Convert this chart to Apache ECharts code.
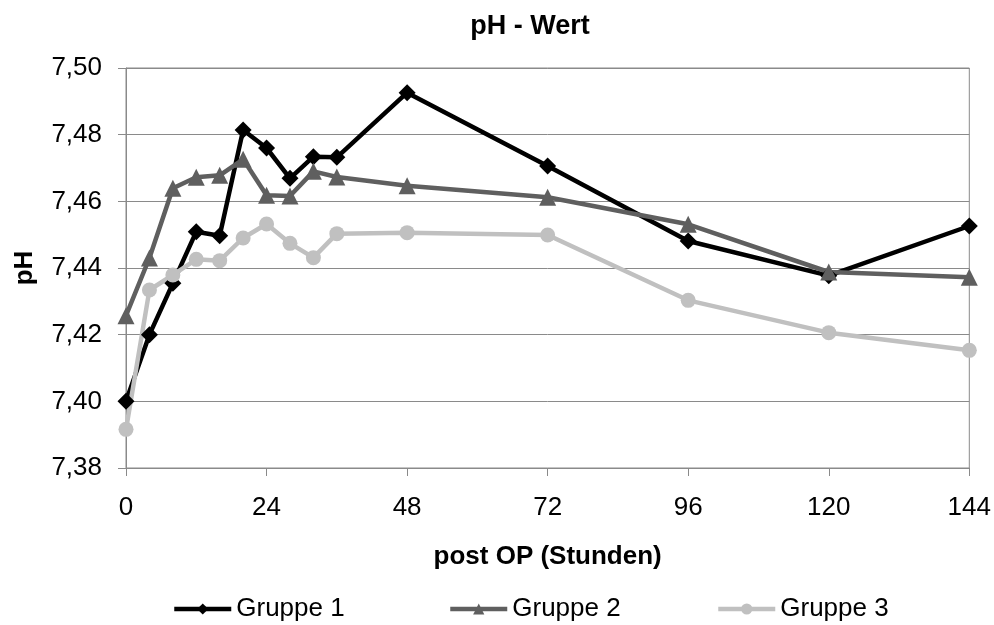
<!DOCTYPE html>
<html>
<head>
<meta charset="utf-8">
<script src="https://cdn.jsdelivr.net/npm/echarts@6/dist/echarts.min.js"></script>
<style>
html,body{margin:0;padding:0;background:#fff;}
#chart{width:994px;height:625px;}
</style>
</head>
<body>
<div id="chart"></div>
<script>
const hours = [0, 4, 8, 12, 16, 20, 24, 28, 32, 36, 48, 72, 96, 120, 144];
const gruppe1 = [7.400, 7.420, 7.4354, 7.4509, 7.4497, 7.4814, 7.4760, 7.4669, 7.4734, 7.4732, 7.4926, 7.4706, 7.4481, 7.4377, 7.4526];
const gruppe2 = [7.4257, 7.4430, 7.4639, 7.4672, 7.4678, 7.4726, 7.4618, 7.4616, 7.4690, 7.4673, 7.4647, 7.4612, 7.4531, 7.4388, 7.4372];
const gruppe3 = [7.3916, 7.4334, 7.4379, 7.4426, 7.4422, 7.4490, 7.4532, 7.4474, 7.4431, 7.4503, 7.4506, 7.4499, 7.4303, 7.4206, 7.4153];
const seriesNames = ['Gruppe 1', 'Gruppe 2', 'Gruppe 3'];
const title = 'pH - Wert';
const xName = 'post OP (Stunden)';
const yName = 'pH';

const FONT = '"Liberation Sans", Arial, sans-serif';
const FS = 26;
const chart = echarts.init(document.getElementById('chart'));

function pairs(vals) { return hours.map((h, i) => [h, vals[i]]); }

const colors = ['#000000', '#5f5f5f', '#c0c0c0'];
const symbols = ['diamond', 'triangle', 'circle'];
const sizes = [17, 17, 15];
const data = [gruppe1, gruppe2, gruppe3];

const legendLefts = [172, 448, 716];

chart.setOption({
  animation: false,
  backgroundColor: '#ffffff',
  title: {
    text: title, left: 525, top: 8, textAlign: 'center',
    textStyle: { fontFamily: FONT, fontWeight: 'bold', fontSize: 27, color: '#000' }
  },
  legend: seriesNames.map((n, i) => ({
    data: [n], left: legendLefts[i], top: 596,
    itemWidth: 57, itemHeight: 14, itemGap: 4, padding: 0,
    lineStyle: { width: 4.5 },
    textStyle: { fontFamily: FONT, fontSize: FS, color: '#000' }
  })),
  grid: { left: 126, right: 23, top: 68, bottom: 157, show: true, borderColor: '#8a8a8a', borderWidth: 1 },
  xAxis: {
    type: 'value', min: 0, max: 144, interval: 24,
    name: xName, nameLocation: 'middle', nameGap: 76,
    nameTextStyle: { fontFamily: FONT, fontWeight: 'bold', fontSize: FS, color: '#000' },
    axisLine: { show: true, lineStyle: { color: '#8a8a8a', width: 1 } },
    axisTick: { show: true, length: 8, inside: false, lineStyle: { color: '#8a8a8a' } },
    axisLabel: { fontFamily: FONT, fontSize: FS, color: '#000', margin: 27 },
    splitLine: { show: false }
  },
  yAxis: {
    type: 'value', min: 7.38, max: 7.50, interval: 0.02,
    name: yName, nameLocation: 'middle', nameGap: 88, nameRotate: 90,
    nameTextStyle: { fontFamily: FONT, fontWeight: 'bold', fontSize: FS, color: '#000' },
    axisLine: { show: true, lineStyle: { color: '#8a8a8a', width: 1 } },
    axisTick: { show: true, length: 8, lineStyle: { color: '#8a8a8a' } },
    axisLabel: {
      fontFamily: FONT, fontSize: FS, color: '#000', margin: 24,
      formatter: v => v.toFixed(2).replace('.', ',')
    },
    splitLine: { show: true, lineStyle: { color: '#8a8a8a', width: 1 } }
  },
  series: seriesNames.map((n, i) => ({
    name: n, type: 'line', data: pairs(data[i]),
    symbol: symbols[i], symbolSize: sizes[i], showAllSymbol: true,
    lineStyle: { color: colors[i], width: 4.5 },
    itemStyle: { color: colors[i], borderWidth: 0 },
    emphasis: { disabled: true }
  }))
});
</script>
</body>
</html>
